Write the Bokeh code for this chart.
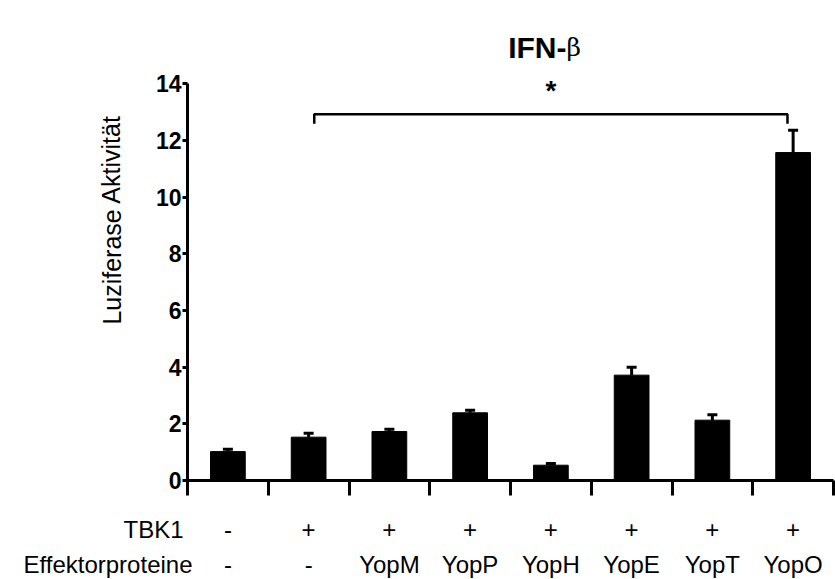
from bokeh.plotting import figure
from bokeh.layouts import column, row
from bokeh.models import (Range1d, FixedTicker, Whisker, ColumnDataSource, TeeHead,
                          CustomJSTickFormatter)
from bokeh.core.properties import value
from bokeh.embed import file_html
from bokeh.resources import INLINE

# ---- data ----
tbk1 = ["-", "+", "+", "+", "+", "+", "+", "+"]
effectors = ["-", "-", "YopM", "YopP", "YopH", "YopE", "YopT", "YopO"]
values = [1.02, 1.53, 1.73, 2.39, 0.54, 3.72, 2.13, 11.58]
errors = [0.08, 0.14, 0.08, 0.09, 0.06, 0.28, 0.19, 0.79]
y_ticks = [0, 2, 4, 6, 8, 10, 12, 14]
title_bold = "IFN-"
title_greek = "β"
y_label = "Luziferase Aktivität"
row_names = ["TBK1", "Effektorproteine"]
bracket_pair = (1, 7)
bracket_y = 12.93
bracket_drop = 0.33
star_text = "*"

FONT = value("Liberation Sans")
n = len(values)
xs = [i + 0.5 for i in range(n)]

# ---- layout geometry (pixels) ----
W, H = 835, 579
FL, FR, FT, FB = 187, 833, 75, 480   # plot frame edges
TS = 69                               # height of the title strip
LW = 140                              # width of the y-label strip
MB = 30                               # main figure bottom border
PX = (FR - FL) / n                    # pixels per category
YMAX = 14.3
X0, X1 = -FL / PX, (W - FL) / PX
MH = FB - TS + MB                     # main figure height


def blank(width, height, xr, yr):
    f = figure(width=width, height=height, x_range=xr, y_range=yr,
               output_backend="svg", toolbar_location=None, title_location=None,
               x_axis_type=None, y_axis_type=None, min_border=0)
    f.outline_line_color = None
    f.grid.visible = False
    return f


src = ColumnDataSource(dict(
    x=xs, top=values, upper=[v + e for v, e in zip(values, errors)],
    tbk1=tbk1, eff=effectors,
))

# ---- main chart ----
p = figure(width=W - LW, height=MH, x_range=Range1d(0, n),
           y_range=Range1d(0, YMAX), output_backend="svg", toolbar_location=None,
           title_location=None,
           min_border_left=FL - LW, min_border_right=W - FR, min_border_top=FT - TS,
           min_border_bottom=MB)
p.outline_line_color = None
p.xgrid.visible = False
p.ygrid.visible = False

ya = p.yaxis[0]
ya.ticker = FixedTicker(ticks=y_ticks)
ya.bounds = (0, 14)
ya.axis_line_width = 3
ya.major_tick_line_width = 3
ya.major_tick_out = 5
ya.major_tick_in = 0
ya.minor_tick_line_color = None
ya.major_label_text_font = "Liberation Sans"
ya.major_label_text_font_style = "bold"
ya.major_label_text_font_size = "23px"
ya.major_label_text_color = "black"
ya.major_label_standoff = 1

xa = p.xaxis[0]
xa.ticker = FixedTicker(ticks=list(range(n + 1)))
xa.axis_line_width = 3
xa.major_tick_line_width = 3
xa.major_tick_out = 15
xa.major_tick_in = 0
xa.minor_tick_line_color = None
xa.formatter = CustomJSTickFormatter(code="return ''")
xa.major_label_standoff = 0

p.vbar(x="x", top="top", width=0.43, source=src, fill_color="black",
       line_color="black")
p.add_layout(Whisker(base="x", upper="upper", lower="top", source=src,
                     upper_head=TeeHead(size=10, line_width=3), lower_head=None,
                     line_width=3))

l = bracket_pair[0] + 0.5 + 0.07
r = bracket_pair[1] + 0.5 - 0.07
p.line(x=[l, l, r, r],
       y=[bracket_y - bracket_drop, bracket_y, bracket_y, bracket_y - bracket_drop],
       line_width=2.5, line_color="black")
p.text(x=[(l + r) / 2], y=[13.78], text=[star_text], text_align="center",
       text_baseline="middle", text_font=FONT, text_font_style="bold",
       text_font_size="28px", text_color="black")

# ---- title strip ----
top = blank(W, TS, Range1d(X0, X1), Range1d(0, TS))
tx = (566 - FL) / PX
top.text(x=[tx], y=[TS - 47], text=[title_bold], text_align="right",
         text_baseline="middle", text_font=FONT, text_font_style="bold",
         text_font_size="30px", text_color="black")
top.text(x=[tx], y=[TS - 47], text=[title_greek], text_align="left",
         text_baseline="middle", text_font=value("DejaVu Serif"),
         text_font_size="25px", text_color="black")

# ---- y-label strip ----
left = blank(LW, MH, Range1d(0, LW), Range1d(0, MH))
left.text(x=[111], y=[TS + MH - 226], text=[y_label], angle=1.5708,
          text_align="center", text_baseline="middle", text_font=FONT,
          text_font_size="25px", text_color="black")

# ---- bottom rows ----
BH = H - FB - MB
bot = blank(W, BH, Range1d(X0, X1), Range1d(0, BH))
y1, y2 = H - 529, H - 564
bot.text(x="x", y=y1, text="tbk1", source=src, text_align="center",
         text_baseline="middle", text_font=FONT, text_font_size="24px",
         text_color="black")
bot.text(x="x", y=y2, text="eff", source=src, text_align="center",
         text_baseline="middle", text_font=FONT, text_font_size="24px",
         text_color="black")
bot.text(x=[(183 - FL) / PX, (192 - FL) / PX], y=[y1, y2], text=row_names,
         text_align="right", text_baseline="middle", text_font=FONT,
         text_font_size="24px", text_color="black")

layout = column(top, row(left, p), bot)
open("out.html", "w").write(file_html(layout, INLINE))
